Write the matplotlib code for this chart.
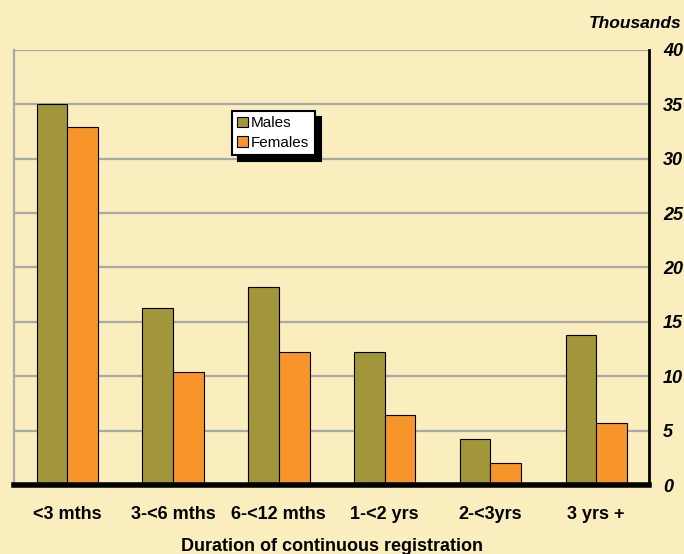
import numpy as np
from matplotlib import pyplot as plt

plt.rcParams['font.family'] = ['Liberation Sans', 'DejaVu Sans']

categories = ["<3 mths", "3-<6 mths", "6-<12 mths", "1-<2 yrs", "2-<3yrs", "3 yrs +"]
males = [35.0, 16.3, 18.2, 12.2, 4.2, 13.8]
females = [32.9, 10.4, 12.2, 6.4, 2.0, 5.7]
yticks = [0, 5, 10, 15, 20, 25, 30, 35, 40]

bg = "#FAEDBE"
male_col = "#A19639"
female_col = "#F7952B"
grid_col = "#A9A9A9"

fig = plt.figure(figsize=(6.84, 5.54), dpi=100, facecolor=bg)
ax = fig.add_axes([0.021, 0.1245, 0.928, 0.7855])
ax.set_facecolor(bg)

x = np.arange(len(categories))
w = 0.29
ax.bar(x - w / 2, males, w, color=male_col, edgecolor="black", linewidth=0.8,
       label="Males", zorder=3)
ax.bar(x + w / 2, females, w, color=female_col, edgecolor="black", linewidth=0.8,
       label="Females", zorder=3)

ax.set_xlim(-0.5, len(categories) - 0.5)
ax.set_ylim(0, 40)
ax.set_yticks(yticks)
ax.yaxis.tick_right()
ax.set_yticklabels([str(t) for t in yticks], fontsize=13, fontweight="bold",
                   fontstyle="italic")
ax.tick_params(axis="y", length=0, pad=10)
ax.set_xticks(x)
ax.set_xticklabels(categories, fontsize=13, fontweight="bold")
ax.tick_params(axis="x", length=0, pad=15)
ax.set_xlabel("Duration of continuous registration", fontsize=13,
              fontweight="bold", labelpad=11)

ax.yaxis.grid(True, color=grid_col, linewidth=1.6, zorder=0)
ax.set_axisbelow(True)

ax.spines["top"].set_visible(False)
ax.spines["left"].set_color(grid_col)
ax.spines["left"].set_linewidth(1.6)
ax.spines["right"].set_color("black")
ax.spines["right"].set_linewidth(2)
ax.spines["bottom"].set_color("black")
ax.spines["bottom"].set_linewidth(4)
ax.spines["bottom"].set_zorder(4)

fig.text(0.996, 0.957, "Thousands", ha="right", va="center", fontsize=12.5,
         fontweight="bold", fontstyle="italic")

leg = ax.legend(loc="upper left", bbox_to_anchor=(232 / 684, 1 - 111 / 554),
                bbox_transform=fig.transFigure, fontsize=11, fancybox=False,
                edgecolor="black", framealpha=1, facecolor="white",
                shadow={"color": "black", "alpha": 1, "ox": 4.3, "oy": -4.3},
                handlelength=0.7, handleheight=0.7, handletextpad=0.2,
                labelspacing=0.35, borderpad=0.35, borderaxespad=0)
leg.get_frame().set_linewidth(1.5)

fig.savefig("out.png", dpi=100, facecolor=bg)
